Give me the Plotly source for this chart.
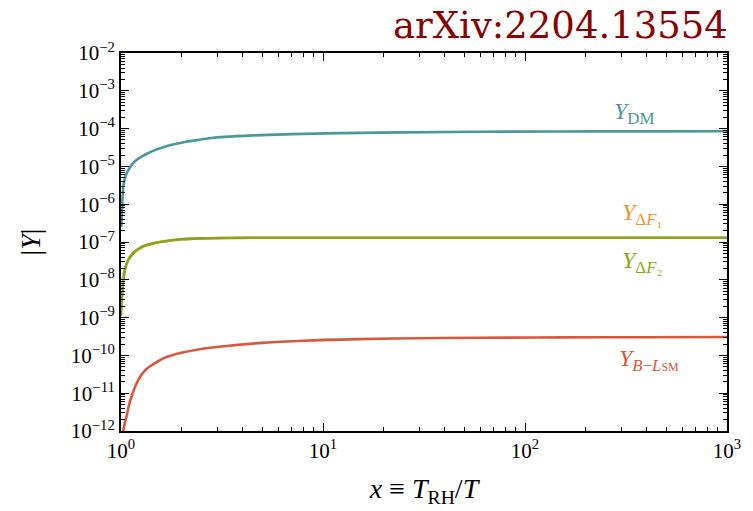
import plotly.graph_objects as go

# ---- data ----
x_dm = [1.003, 1.007, 1.015, 1.027, 1.045, 1.067, 1.1, 1.129, 1.18, 1.265, 1.35, 1.47,
        1.65, 1.85, 2.1, 2.4, 2.8, 3.25, 4.5, 7, 12, 25, 58.7, 150, 400, 1000]
y_dm = [2.5e-7, 3.9e-7, 1.12e-6, 2.95e-6, 4.8e-6, 6.6e-6, 8.9e-6, 1.10e-5, 1.41e-5,
        1.82e-5, 2.19e-5, 2.69e-5, 3.31e-5, 3.89e-5, 4.47e-5, 5.01e-5, 5.62e-5,
        6.03e-5, 6.61e-5, 7.16e-5, 7.59e-5, 7.94e-5, 8.24e-5, 8.39e-5, 8.47e-5, 8.51e-5]

x_f = [1.0, 1.005, 1.015, 1.025, 1.038, 1.06, 1.087, 1.13, 1.172, 1.24, 1.31, 1.45,
       1.59, 1.99, 2.5, 3.25, 5, 10, 100, 1000]
y_f1 = [1.12e-9, 2.5e-9, 4.5e-9, 8.9e-9, 1.51e-8, 2.40e-8, 3.39e-8, 4.57e-8, 5.62e-8,
        6.92e-8, 7.94e-8, 9.33e-8, 1.02e-7, 1.18e-7, 1.25e-7, 1.28e-7, 1.295e-7,
        1.30e-7, 1.30e-7, 1.30e-7]
y_f2 = [1.12e-9, 2.5e-9, 4.5e-9, 8.9e-9, 1.51e-8, 2.40e-8, 3.39e-8, 4.57e-8, 5.62e-8,
        6.92e-8, 7.94e-8, 9.33e-8, 1.02e-7, 1.18e-7, 1.25e-7, 1.28e-7, 1.295e-7,
        1.30e-7, 1.30e-7, 1.30e-7]

x_bl = [1.02, 1.027, 1.045, 1.067, 1.095, 1.129, 1.17, 1.22, 1.28, 1.36, 1.5, 1.65,
        1.99, 2.5, 3.25, 5, 8, 15, 30, 58.7, 150, 400, 1000]
y_bl = [6.3e-13, 1.0e-12, 1.66e-12, 2.51e-12, 4.8e-12, 8.3e-12, 1.41e-11, 2.29e-11,
        3.39e-11, 4.68e-11, 6.61e-11, 8.71e-11, 1.17e-10, 1.48e-10, 1.75e-10,
        2.14e-10, 2.45e-10, 2.69e-10, 2.85e-10, 2.92e-10, 2.99e-10, 3.03e-10, 3.06e-10]

y_tick_exp = list(range(-12, -1))
x_tick_exp = [0, 1, 2, 3]

C_DM = "#4a979e"
C_F1 = "#f0922e"
C_F2 = "#8aa51a"
C_BL = "#d9583b"

SERIF = "Liberation Serif"

fig = go.Figure()
for xs, ys, c in [(x_dm, y_dm, C_DM), (x_f, y_f1, C_F1), (x_f, y_f2, C_F2), (x_bl, y_bl, C_BL)]:
    fig.add_trace(go.Scatter(x=xs, y=ys, mode="lines",
                             line=dict(color=c, width=2.6, shape="spline", smoothing=1.0),
                             showlegend=False, hoverinfo="skip"))

def sup(e):
    return "10<sup>" + (("\u2212" + str(-e)) if e < 0 else str(e)) + "</sup>"

axis_common = dict(
    showgrid=False, zeroline=False, showline=True, linecolor="black", linewidth=2,
    mirror="ticks", ticks="inside", ticklen=8, tickwidth=1.2, tickcolor="black",
    tickfont=dict(family=SERIF, size=21, color="black"),
    minor=dict(ticks="inside", ticklen=4, tickwidth=1, tickcolor="black", dtick="D1", showgrid=False),
)

fig.update_xaxes(type="log", range=[0, 3],
                 tickvals=[10 ** e for e in x_tick_exp], ticktext=[sup(e) for e in x_tick_exp],
                 title=dict(text="<i>x</i> \u2261 <i>T</i><sub>RH</sub>/<i>T</i>",
                            font=dict(family=SERIF, size=28, color="black"), standoff=16),
                 **axis_common)
fig.update_yaxes(type="log", range=[-12, -2],
                 tickvals=[10 ** e for e in y_tick_exp], ticktext=[sup(e) for e in y_tick_exp],
                 title=dict(text="|<i>Y</i>|", font=dict(family=SERIF, size=28, color="black"),
                            standoff=22),
                 **axis_common)

lab_font = lambda c: dict(family=SERIF, size=24, color=c)
fig.add_annotation(x=2.54, y=-3.59, text="<i>Y</i><sub>DM</sub>", showarrow=False, font=lab_font(C_DM))
fig.add_annotation(x=2.58, y=-6.26, text="<i>Y</i><sub>\u0394<i>F</i>\u2081</sub>", showarrow=False, font=lab_font(C_F1))
fig.add_annotation(x=2.58, y=-7.52, text="<i>Y</i><sub>\u0394<i>F</i>\u2082</sub>", showarrow=False, font=lab_font(C_F2))
fig.add_annotation(x=2.616, y=-10.11, text="<i>Y</i><sub><i>B</i>\u2212<i>L</i><span style='font-size:12px'>SM</span></sub>",
                   showarrow=False, font=lab_font(C_BL))

fig.add_annotation(xref="paper", yref="paper", x=1.0, y=1.074, xshift=3, xanchor="right", yanchor="middle",
                   text="arXiv:2204.13554", showarrow=False,
                   font=dict(family="DejaVu Serif", size=37, color="#8b0000"))

fig.update_layout(width=753, height=511, margin=dict(l=121, r=23, t=53, b=79),
                  paper_bgcolor="white", plot_bgcolor="white")

fig.write_html("out.html")
